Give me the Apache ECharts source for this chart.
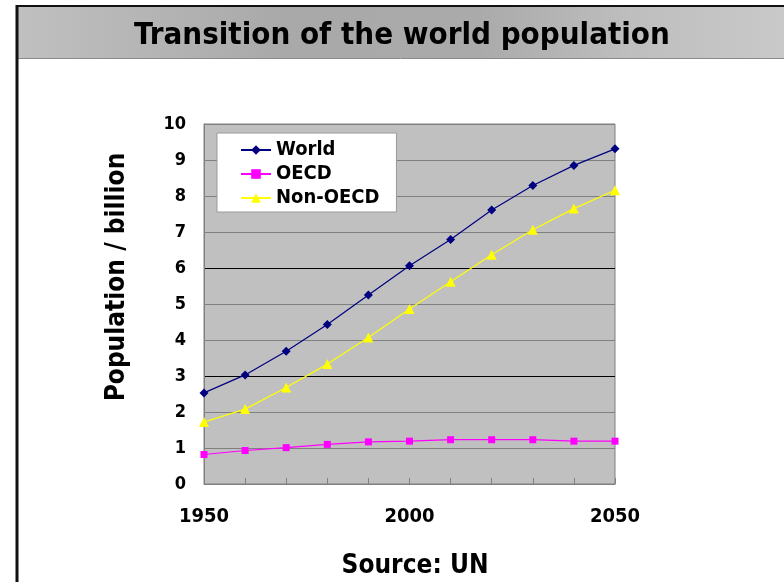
<!DOCTYPE html>
<html>
<head>
<meta charset="utf-8">
<script src="https://cdn.jsdelivr.net/npm/echarts@6/dist/echarts.min.js"></script>
<style>
html,body{margin:0;padding:0;background:#fff;}
#chart{width:784px;height:582px;}
</style>
</head>
<body>
<div id="chart"></div>
<script>
const years = ['1950','1960','1970','1980','1990','2000','2010','2020','2030','2040','2050'];
const world = [2.53, 3.03, 3.69, 4.43, 5.25, 6.06, 6.79, 7.61, 8.29, 8.85, 9.31];
const oecd = [0.82, 0.93, 1.01, 1.10, 1.17, 1.19, 1.23, 1.23, 1.23, 1.19, 1.19];
const nonOecd = [1.72, 2.08, 2.68, 3.33, 4.07, 4.86, 5.62, 6.37, 7.06, 7.65, 8.16];
const seriesNames = ['World', 'OECD', 'Non-OECD'];
const titleText = 'Transition of the world population';
const yAxisTitle = 'Population / billion';
const sourceText = 'Source: UN';

const FONT = "'DejaVu Sans Condensed', 'DejaVu Sans', sans-serif";
const chart = echarts.init(document.getElementById('chart'), null, {renderer: 'canvas'});

const gridColors = ['#808080','#808080','#808080','#000000','#808080','#808080','#000000','#808080','#808080','#808080','#808080'];

chart.setOption({
  animation: false,
  backgroundColor: '#ffffff',
  graphic: [
    {type: 'rect', left: 17, top: 6, z: -10, shape: {width: 767, height: 52},
     style: {fill: new echarts.graphic.LinearGradient(0, 0, 1, 0, [
       {offset: 0, color: '#c0c0c0'},
       {offset: 0.15, color: '#b6b6b6'},
       {offset: 0.35, color: '#a9a9a9'},
       {offset: 0.6, color: '#aaaaaa'},
       {offset: 0.8, color: '#bebebe'},
       {offset: 1, color: '#c9c9c9'}
     ])}},
    {type: 'line', z: 5, shape: {x1: 16, y1: 6, x2: 784, y2: 6}, style: {stroke: '#111', lineWidth: 2}},
    {type: 'line', z: 5, shape: {x1: 17, y1: 58.5, x2: 784, y2: 58.5}, style: {stroke: '#8a8a8a', lineWidth: 1}},
    {type: 'line', z: 5, shape: {x1: 17, y1: 5, x2: 17, y2: 582}, style: {stroke: '#111', lineWidth: 3}},
    {type: 'text', z: 6,
     style: {text: titleText, x: 402, y: 36, align: 'center', verticalAlign: 'middle', fontFamily: FONT, fontWeight: 'bold', fontSize: 31, fill: '#000'}},
    {type: 'text', z: 6, x: 117, y: 277, rotation: Math.PI / 2,
     style: {text: yAxisTitle, x: 0, y: 0, align: 'center', verticalAlign: 'middle', fontFamily: FONT, fontWeight: 'bold', fontSize: 26, fill: '#000'}},
    {type: 'text', z: 6,
     style: {text: sourceText, x: 415, y: 566, align: 'center', verticalAlign: 'middle', fontFamily: FONT, fontWeight: 'bold', fontSize: 26, fill: '#000'}}
  ],
  grid: {left: 204, top: 124, width: 411, height: 360, show: true, backgroundColor: '#c0c0c0', borderColor: '#808080', borderWidth: 1},
  legend: {
    orient: 'vertical', left: 217, top: 133,
    backgroundColor: '#ffffff', borderColor: '#9a9a9a', borderWidth: 1,
    padding: [7, 17, 4, 23], itemGap: 4, itemWidth: 30, itemHeight: 12,
    data: seriesNames,
    textStyle: {fontFamily: FONT, fontWeight: 'bold', fontSize: 20, color: '#000'}
  },
  xAxis: {
    type: 'category', data: years, boundaryGap: false,
    axisLine: {lineStyle: {color: '#808080'}},
    axisTick: {show: true, inside: true, length: 6, interval: 0, lineStyle: {color: '#808080'}},
    axisLabel: {interval: 4, margin: 23, fontFamily: FONT, fontWeight: 'bold', fontSize: 20, color: '#000'},
    splitLine: {show: false}
  },
  yAxis: {
    type: 'value', min: 0, max: 10, interval: 1,
    axisLine: {show: true, lineStyle: {color: '#808080'}},
    axisTick: {show: false},
    axisLabel: {margin: 18, fontFamily: FONT, fontWeight: 'bold', fontSize: 18, color: '#000'},
    splitLine: {show: true, lineStyle: {color: gridColors, width: 1}}
  },
  series: [
    {name: seriesNames[0], type: 'line', data: world, symbol: 'diamond', symbolSize: 9,
     lineStyle: {color: '#000080', width: 1.2}, itemStyle: {color: '#000080'}},
    {name: seriesNames[1], type: 'line', data: oecd, symbol: 'rect', symbolSize: 7,
     lineStyle: {color: '#ff00ff', width: 1.2}, itemStyle: {color: '#ff00ff'}},
    {name: seriesNames[2], type: 'line', data: nonOecd, symbol: 'triangle', symbolSize: 10,
     lineStyle: {color: '#ffff00', width: 1.2}, itemStyle: {color: '#ffff00'}}
  ]
});
</script>
</body>
</html>
